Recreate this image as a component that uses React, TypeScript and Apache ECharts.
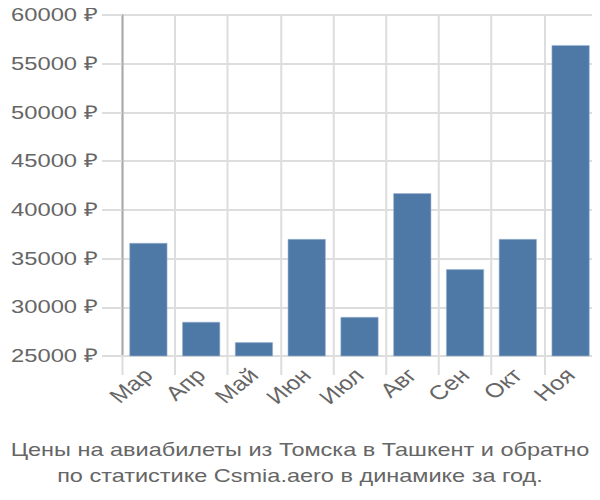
import React, { useEffect, useRef } from "react";
import * as echarts from "echarts";

const categories = ["Мар", "Апр", "Май", "Июн", "Июл", "Авг", "Сен", "Окт", "Ноя"];
const prices = [36600, 28500, 26400, 37000, 29000, 41700, 33900, 37000, 56900];
const titleLines = [
  "Цены на авиабилеты из Томска в Ташкент и обратно",
  "по статистике Csmia.aero в динамике за год.",
];

// The reference is horizontally stretched; render narrower and scale on X.
const STRETCH = 1.25;
const INNER_W = 600 / STRETCH;

export default function App() {
  const ref = useRef<HTMLDivElement>(null);
  useEffect(() => {
    if (!ref.current) return;
    const chart = echarts.init(ref.current, null, { renderer: "svg" });
    const font = "'Liberation Sans', Arial, sans-serif";
    chart.setOption({
      animation: false,
      textStyle: { fontFamily: font },
      title: {
        text: titleLines.join("\n"),
        left: "center",
        top: 432,
        textStyle: {
          fontSize: 18.8,
          fontWeight: "normal",
          color: "#666",
          lineHeight: 26,
          fontFamily: font,
        },
      },
      grid: { left: 122 / STRETCH, right: 3 / STRETCH, top: 15, bottom: 144 },
      xAxis: {
        type: "category",
        data: categories,
        axisLine: { lineStyle: { color: "#ddd", width: 2 } },
        axisTick: { show: true, length: 19, lineStyle: { color: "#ddd", width: 2 / STRETCH } },
        splitLine: { show: true, lineStyle: { color: "#ddd", width: 2 / STRETCH } },
        axisLabel: { rotate: 45, fontSize: 20, color: "#666", margin: 16 },
      },
      yAxis: {
        type: "value",
        min: 25000,
        max: 60000,
        interval: 5000,
        axisLine: { show: true, lineStyle: { color: "#aaa", width: 2 / STRETCH } },
        axisTick: { show: true, length: 20 / STRETCH, lineStyle: { color: "#ddd", width: 2 } },
        splitLine: { show: true, lineStyle: { color: "#ddd", width: 2 } },
        axisLabel: {
          fontSize: 19,
          color: "#666",
          margin: 24 / STRETCH,
          formatter: (v: number) => v + " ₽",
        },
      },
      series: [
        {
          type: "bar",
          data: prices,
          barCategoryGap: "28%",
          itemStyle: { color: "#4e79a7", borderColor: "#9fb6d0", borderWidth: 0.5 },
        },
      ],
    });
    return () => chart.dispose();
  }, []);
  return (
    <div
      ref={ref}
      style={{
        width: INNER_W,
        height: 500,
        margin: -8,
        transform: `scaleX(${STRETCH})`,
        transformOrigin: "0 0",
      }}
    />
  );
}
